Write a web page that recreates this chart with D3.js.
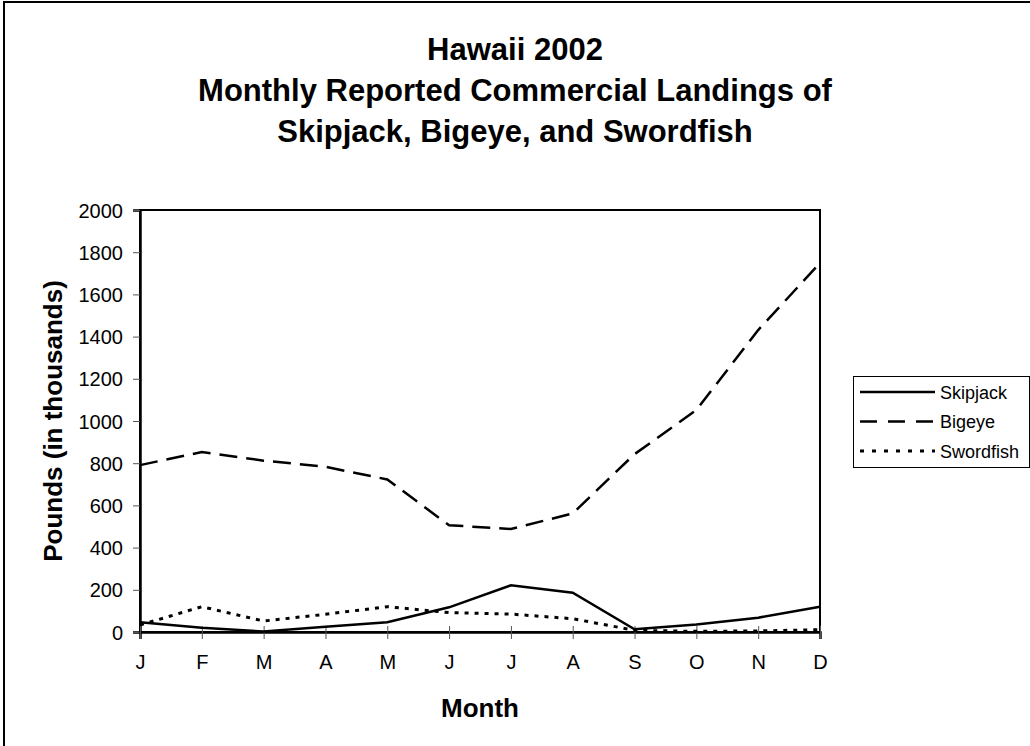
<!DOCTYPE html>
<html>
<head>
<meta charset="utf-8">
<script src="https://cdn.jsdelivr.net/npm/d3@7"></script>
<style>
  html, body { margin: 0; padding: 0; background: #fff; }
  svg { display: block; }
  text { font-family: Arial, "Liberation Sans", sans-serif; fill: #000; }
</style>
</head>
<body>
<script>
// ---- Data ----
const months = ["J", "F", "M", "A", "M", "J", "J", "A", "S", "O", "N", "D"];
const skipjack = [46, 20, 2, 25, 46, 117, 221, 186, 13, 35, 68, 120];
const bigeye = [791, 853, 812, 783, 723, 506, 488, 562, 843, 1052, 1431, 1749];
const swordfish = [33, 120, 52, 84, 120, 92, 85, 63, 8, 3, 5, 11];
const seriesNames = ["Skipjack", "Bigeye", "Swordfish"];
const yTicks = [0, 200, 400, 600, 800, 1000, 1200, 1400, 1600, 1800, 2000];
const titleLines = ["Hawaii 2002", "Monthly Reported Commercial Landings of", "Skipjack, Bigeye, and Swordfish"];

const W = 1030, H = 746;
const plot = { left: 140, right: 820, top: 210, bottom: 632 };

const svg = d3.select("body").append("svg").attr("width", W).attr("height", H);

// Outer chart frame
svg.append("rect").attr("x", 4).attr("y", 2).attr("width", W + 20).attr("height", H + 20)
  .attr("fill", "#fff").attr("stroke", "#000").attr("stroke-width", 2);

// Title
svg.append("g").selectAll("text").data(titleLines).join("text")
  .attr("x", 515).attr("y", (d, i) => 60 + i * 41)
  .attr("text-anchor", "middle").attr("font-weight", "bold").attr("font-size", 31)
  .text(d => d);

const idx = months.map((m, i) => i);
const x = d3.scalePoint().domain(idx).range([plot.left, plot.right]);
const y = d3.scaleLinear().domain([0, 2000]).range([plot.bottom, plot.top]);

// Plot frame (top & right)
svg.append("rect").attr("x", plot.left).attr("y", plot.top)
  .attr("width", plot.right - plot.left).attr("height", plot.bottom - plot.top)
  .attr("fill", "none").attr("stroke", "#000").attr("stroke-width", 2);

// Y axis
const yAxis = svg.append("g").attr("transform", `translate(${plot.left},0)`)
  .call(d3.axisLeft(y).tickValues(yTicks).tickSize(7).tickPadding(10).tickFormat(d3.format("d")));
yAxis.select(".domain").attr("stroke", "#000").attr("stroke-width", 2.5);
yAxis.selectAll(".tick line").attr("stroke", "#555");
yAxis.selectAll("text").attr("font-size", 20).attr("font-family", "Arial, 'Liberation Sans', sans-serif").attr("dy", "0.35em");

// X axis
const xAxis = svg.append("g").attr("transform", `translate(0,${plot.bottom})`)
  .call(d3.axisBottom(x).tickSize(7).tickPadding(16).tickFormat(i => months[i]));
xAxis.select(".domain").attr("stroke", "#000").attr("stroke-width", 2.5);
xAxis.selectAll(".tick line").attr("stroke", "#555").attr("y1", -6);
xAxis.selectAll("text").attr("font-size", 20).attr("font-family", "Arial, 'Liberation Sans', sans-serif");

// Axis titles
svg.append("text").attr("transform", `translate(62,${(plot.top + plot.bottom) / 2}) rotate(-90)`)
  .attr("text-anchor", "middle").attr("font-weight", "bold").attr("font-size", 26)
  .text("Pounds (in thousands)");
svg.append("text").attr("x", (plot.left + plot.right) / 2).attr("y", 717)
  .attr("text-anchor", "middle").attr("font-weight", "bold").attr("font-size", 26)
  .text("Month");

// Series
const dashes = ["none", "18,9", "4,6"];
const widths = [2.5, 2.5, 3];
const seriesData = [skipjack, bigeye, swordfish];
const line = d3.line().x((d, i) => x(i)).y(d => y(d));
svg.append("g").selectAll("path").data(seriesData).join("path")
  .attr("d", d => line(d))
  .attr("fill", "none").attr("stroke", "#000")
  .attr("stroke-width", (d, i) => widths[i])
  .attr("stroke-dasharray", (d, i) => dashes[i]);

// Legend
const lg = svg.append("g");
lg.append("rect").attr("x", 853.5).attr("y", 376.5).attr("width", 176).attr("height", 91)
  .attr("fill", "#fff").attr("stroke", "#000").attr("stroke-width", 1);
const legendDash = ["none", "17,11", "4,8"];
const rows = lg.selectAll("g.row").data(seriesNames).join("g").attr("class", "row")
  .attr("transform", (d, i) => `translate(0,${392 + i * 29.5})`);
rows.append("line").attr("x1", 860).attr("x2", 935).attr("y1", 0).attr("y2", 0)
  .attr("stroke", "#000").attr("stroke-width", (d, i) => widths[i])
  .attr("stroke-dasharray", (d, i) => legendDash[i]);
rows.append("text").attr("x", 940).attr("y", 6.5).attr("font-size", 18).text(d => d);
</script>
</body>
</html>
